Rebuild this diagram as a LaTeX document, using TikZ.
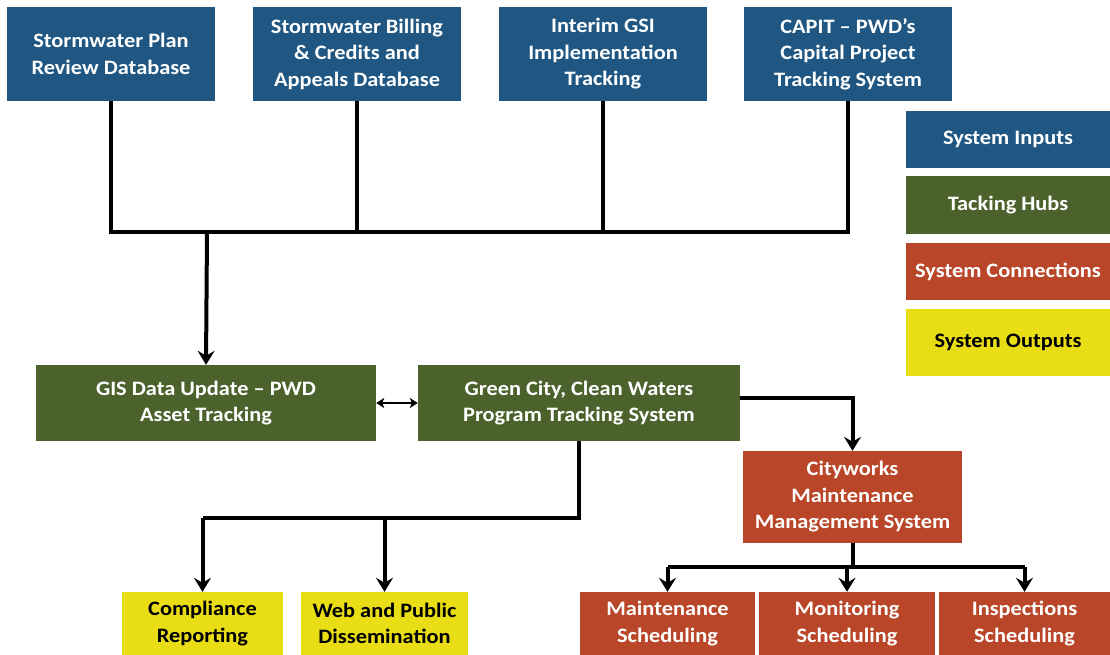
\documentclass[tikz,border=0pt]{standalone}
\usepackage{fontspec}
\setmainfont{Carlito}[FakeStretch=1.09]
\usetikzlibrary{arrows.meta}
\definecolor{inblue}{HTML}{1F5782}
\definecolor{hubgreen}{HTML}{4B622D}
\definecolor{conred}{HTML}{B94628}
\definecolor{outyellow}{HTML}{E9DD15}
\begin{document}
\begin{tikzpicture}[x=1pt,y=-1pt,
  box/.style={draw=none, inner sep=0pt, align=center, font=\fontsize{20.5}{26.5}\selectfont\bfseries, text=white},
  inbox/.style={box, fill=inblue},
  hubbox/.style={box, fill=hubgreen},
  conbox/.style={box, fill=conred},
  outbox/.style={box, fill=outyellow, text=black},
  wire/.style={line width=4pt, draw=black, line join=miter},
  arr/.style={wire, -{Stealth[length=14pt,width=17pt,inset=5pt]}},
  dbl/.style={line width=2pt, draw=black, {Stealth[length=8pt,width=10pt,inset=2pt]}-{Stealth[length=8pt,width=10pt,inset=2pt]}}
]
\useasboundingbox (0,0) rectangle (1110,655);

% inputs
\node[inbox, minimum width=208pt, minimum height=94pt] (b1) at (111,54) {Stormwater Plan\\Review Database};
\node[inbox, minimum width=208pt, minimum height=94pt] (b2) at (357,54) {Stormwater Billing\\\& Credits and\\Appeals Database};
\node[inbox, minimum width=208pt, minimum height=94pt] (b3) at (603,54) {Interim GSI\\Implementation\\Tracking};
\node[inbox, minimum width=208pt, minimum height=94pt] (b4) at (848,54) {CAPIT – PWD’s\\Capital Project\\Tracking System};

% legend
\node[inbox, minimum width=204pt, minimum height=57pt] (l1) at (1008,139.5) {System Inputs};
\node[hubbox, minimum width=204pt, minimum height=58pt] (l2) at (1008,205) {Tacking Hubs};
\node[conbox, minimum width=204pt, minimum height=57pt] (l3) at (1008,271.5) {System Connections};
\node[outbox, minimum width=204pt, minimum height=67pt] (l4) at (1008,342.5) {System Outputs};

% hubs
\node[hubbox, minimum width=340pt, minimum height=76pt] (gis) at (206,403) {GIS Data Update – PWD\\Asset Tracking};
\node[hubbox, minimum width=322pt, minimum height=76pt] (gc) at (579,403) {Green City, Clean Waters\\Program Tracking System};

% connections
\node[conbox, minimum width=219pt, minimum height=92pt] (cw) at (852.5,497) {Cityworks\\Maintenance\\Management System};
\node[conbox, minimum width=175pt, minimum height=63pt] (mt) at (667.5,623.5) {Maintenance\\Scheduling};
\node[conbox, minimum width=176pt, minimum height=63pt] (mo) at (847,623.5) {Monitoring\\Scheduling};
\node[conbox, minimum width=171pt, minimum height=63pt] (ins) at (1024.5,623.5) {Inspections\\Scheduling};

% outputs
\node[outbox, minimum width=161pt, minimum height=63pt] (comp) at (202.5,623.5) {Compliance\\Reporting};
\node[outbox, minimum width=167pt, minimum height=63pt] (web) at (384.5,623.5) {Web and Public\\Dissemination};

% top collector
\coordinate (jt) at (207,232);
\draw[wire] (b1.south) -- (b1.south |- jt) -- (b4.south |- jt) -- (b4.south);
\draw[wire] (b2.south) -- (b2.south |- jt);
\draw[wire] (b3.south) -- (b3.south |- jt);
\draw[arr] (jt) -- (gis.north);

% hub link
\draw[dbl] (gis.east) -- (gc.east -| gc.west);

% to Cityworks
\draw[arr] ([yshift=5pt]gc.east) -| (cw.north);

% to outputs
\coordinate (jo) at (579,518);
\draw[wire] (gc.south) -- (jo) -- (comp.north |- jo);
\draw[arr] (comp.north |- jo) -- (comp.north);
\draw[arr] (web.north |- jo) -- (web.north);

% to schedules
\coordinate (jc) at (852.5,567);
\draw[wire] (cw.south) -- (jc);
\draw[wire] (mt.north |- jc) -- (ins.north |- jc);
\draw[arr] (mt.north |- jc) -- (mt.north);
\draw[arr] (mo.north |- jc) -- (mo.north);
\draw[arr] (ins.north |- jc) -- (ins.north);
\end{tikzpicture}
\end{document}
